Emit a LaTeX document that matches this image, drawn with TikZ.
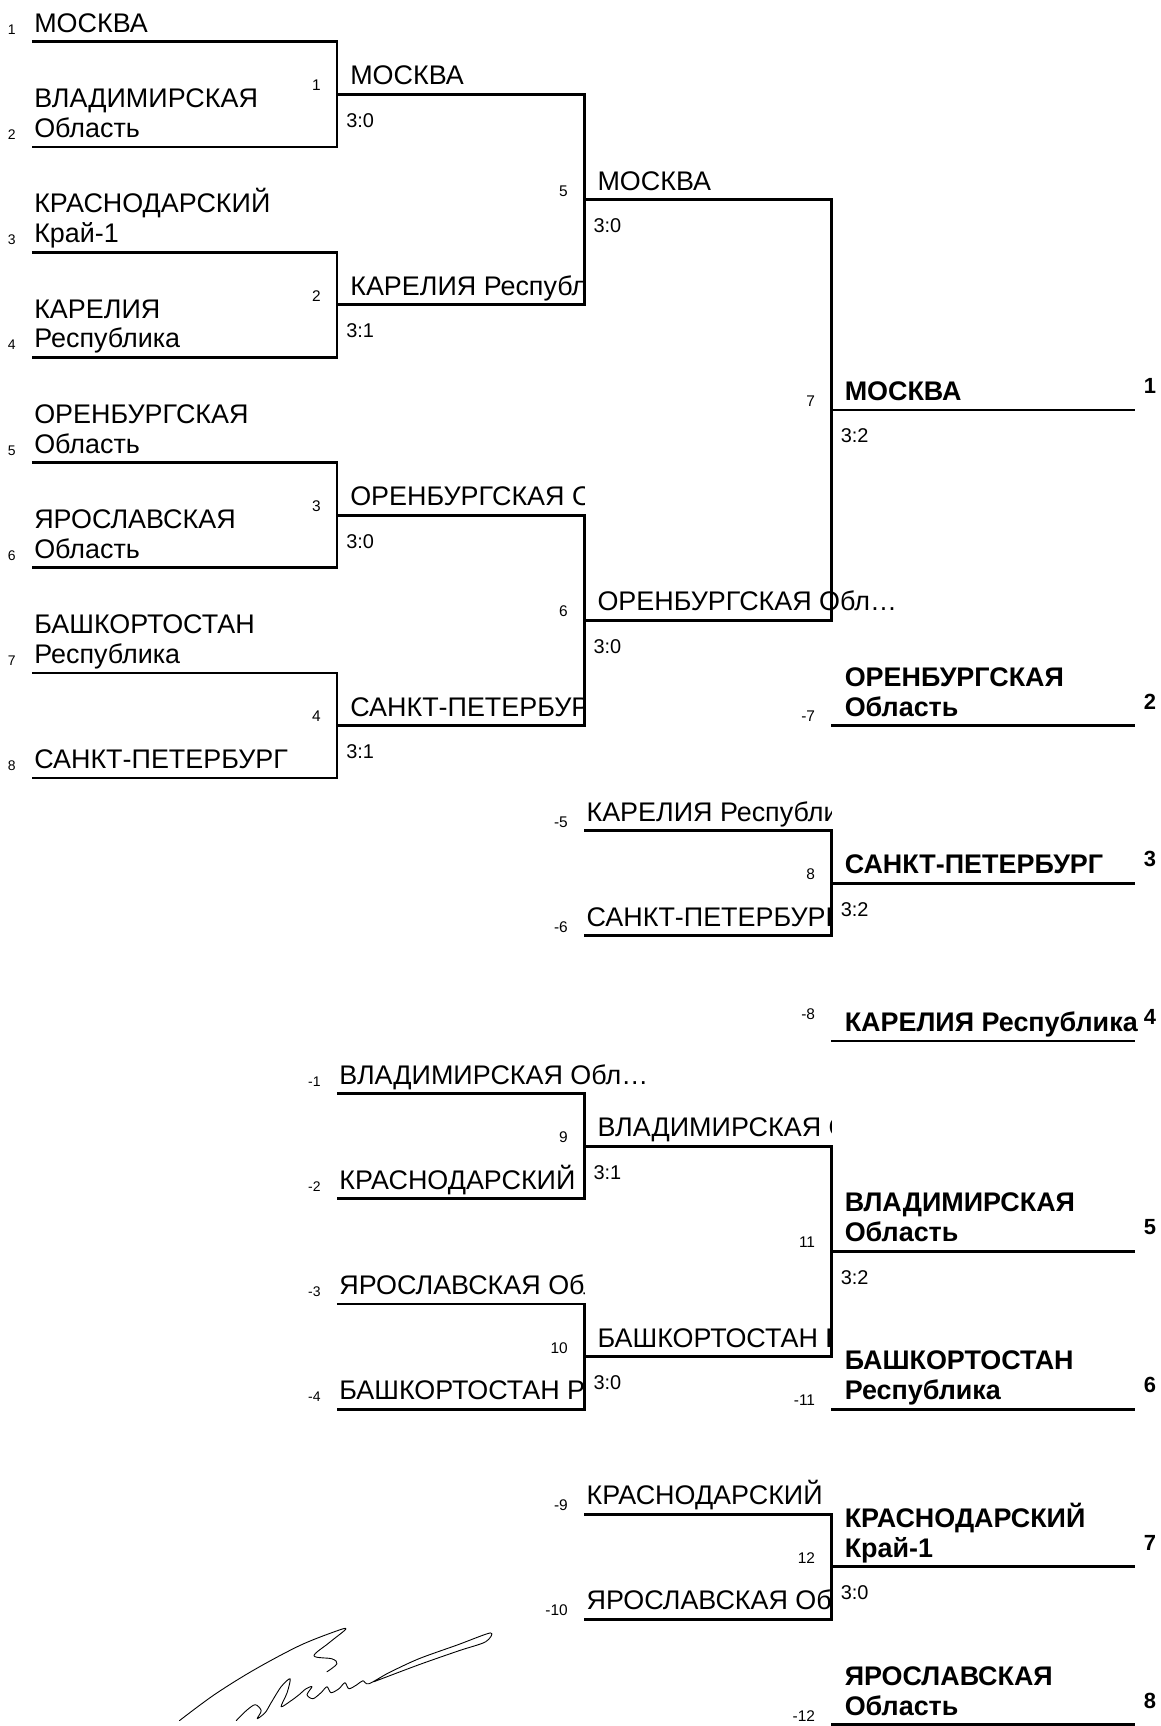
\documentclass[tikz,border=0pt]{standalone}
\usepackage{fontspec}
\setmainfont{Liberation Sans}
\usepackage{tikz}

\begin{document}
\begin{tikzpicture}[x=1pt,y=-52.75pt,line width=2.8pt,
  team/.style={anchor=base west,inner sep=0pt,align=left,font=\fontsize{27}{30}\selectfont,yshift=9.5pt},
  best/.style={team,font=\fontsize{27}{30}\selectfont\bfseries},
  seed/.style={anchor=base east,inner sep=0pt,font=\fontsize{14}{14}\selectfont,yshift=7.5pt},
  game/.style={anchor=base east,inner sep=0pt,font=\fontsize{15.5}{15.5}\selectfont,yshift=3.5pt},
  score/.style={anchor=base west,inner sep=0pt,font=\fontsize{20}{20}\selectfont,yshift=-33pt},
  rank/.style={anchor=base west,inner sep=0pt,font=\fontsize{22}{22}\selectfont\bfseries,yshift=16.5pt},
  sign/.style={line width=0.9pt,line cap=round,line join=round}]
  \fill[white] (0,-0.7962) rectangle (1164,31.9242);

  % upper bracket
  \draw (32,0) -- (338,0) -- (338,2) -- (32,2);
  \draw (32,4) -- (338,4) -- (338,6) -- (32,6);
  \draw (32,8) -- (338,8) -- (338,10) -- (32,10);
  \draw (32,12) -- (338,12) -- (338,14) -- (32,14);
  \draw (338,1) -- (586,1) -- (586,5) -- (338,5);
  \draw (338,9) -- (586,9) -- (586,13) -- (338,13);
  \draw (586,3) -- (834,3) -- (834,11) -- (586,11);
  \draw (834,7) -- (1139,7);
  \draw (834,13) -- (1139,13);
  % third place
  \draw (586,15) -- (834,15) -- (834,17) -- (586,17);
  \draw (834,16) -- (1139,16);
  \draw (834,19) -- (1139,19);
  % places 5 to 8
  \draw (338,20) -- (586,20) -- (586,22) -- (338,22);
  \draw (338,24) -- (586,24) -- (586,26) -- (338,26);
  \draw (586,21) -- (834,21) -- (834,25) -- (586,25);
  \draw (834,23) -- (1139,23);
  \draw (834,26) -- (1139,26);
  \draw (586,28) -- (834,28) -- (834,30) -- (586,30);
  \draw (834,29) -- (1139,29);
  \draw (834,32) -- (1139,32);

  \node[seed] (sd1) at (17,0) {1};
  \node[seed] (sd2) at (17,2) {2};
  \node[seed] (sd3) at (17,4) {3};
  \node[seed] (sd4) at (17,6) {4};
  \node[seed] (sd5) at (17,8) {5};
  \node[seed] (sd6) at (17,10) {6};
  \node[seed] (sd7) at (17,12) {7};
  \node[seed] (sd8) at (17,14) {8};
  \node[team] (t1) at (33,0) {МОСКВА};
  \node[team] (t2) at (33,2) {ВЛАДИМИРСКАЯ\\Область};
  \node[team] (t3) at (33,4) {КРАСНОДАРСКИЙ\\Край-1};
  \node[team] (t4) at (33,6) {КАРЕЛИЯ\\Республика};
  \node[team] (t5) at (33,8) {ОРЕНБУРГСКАЯ\\Область};
  \node[team] (t6) at (33,10) {ЯРОСЛАВСКАЯ\\Область};
  \node[team] (t7) at (33,12) {БАШКОРТОСТАН\\Республика};
  \node[team] (t8) at (33,14) {САНКТ-ПЕТЕРБУРГ};

  \node[game] (g1) at (323,1) {1};
  \node[game] (g2) at (323,5) {2};
  \node[game] (g3) at (323,9) {3};
  \node[game] (g4) at (323,13) {4};
  \node[score] (sc1) at (346,1) {3:0};
  \node[score] (sc2) at (346,5) {3:1};
  \node[score] (sc3) at (346,9) {3:0};
  \node[score] (sc4) at (346,13) {3:1};
  \node[team] (w1) at (350,1) {МОСКВА};
  \begin{scope}
    \clip (338,4) rectangle (586,5);
    \node[team] (w2) at (350,5) {КАРЕЛИЯ Республика};
  \end{scope}
  \begin{scope}
    \clip (338,8) rectangle (586,9);
    \node[team] (w3) at (350,9) {ОРЕНБУРГСКАЯ Область};
  \end{scope}
  \begin{scope}
    \clip (338,12) rectangle (586,13);
    \node[team] (w4) at (350,13) {САНКТ-ПЕТЕРБУРГ};
  \end{scope}

  \node[game] (g5) at (571,3) {5};
  \node[game] (g6) at (571,11) {6};
  \node[score] (sc5) at (594,3) {3:0};
  \node[score] (sc6) at (594,11) {3:0};
  \node[team] (w5) at (598,3) {МОСКВА};
  \node[team] (w6) at (598,11) {ОРЕНБУРГСКАЯ Обл…};

  \node[game] (g7) at (819,7) {7};
  \node[score] (sc7) at (842,7) {3:2};
  \node[best] (p1) at (846,7) {МОСКВА};
  \node[rank] (r1) at (1146,7) {1};
  \node[game] (l7) at (819,13) {-7};
  \node[best] (p2) at (846,13) {ОРЕНБУРГСКАЯ\\Область};
  \node[rank] (r2) at (1146,13) {2};

  \node[game] (l5) at (571,15) {-5};
  \node[game] (l6) at (571,17) {-6};
  \begin{scope}
    \clip (586,14) rectangle (834,15);
    \node[team] (u5) at (587,15) {КАРЕЛИЯ Республика};
  \end{scope}
  \begin{scope}
    \clip (586,16) rectangle (834,17);
    \node[team] (u6) at (587,17) {САНКТ-ПЕТЕРБУРГ};
  \end{scope}
  \node[game] (g8) at (819,16) {8};
  \node[score] (sc8) at (842,16) {3:2};
  \node[best] (p3) at (846,16) {САНКТ-ПЕТЕРБУРГ};
  \node[rank] (r3) at (1146,16) {3};
  \node[game,yshift=18.5pt] (l8) at (819,19) {-8};
  \node[best] (p4) at (846,19) {КАРЕЛИЯ Республика};
  \node[rank] (r4) at (1146,19) {4};

  \node[seed] (l1) at (323,20) {-1};
  \node[seed] (l2) at (323,22) {-2};
  \node[seed] (l3) at (323,24) {-3};
  \node[seed] (l4) at (323,26) {-4};
  \node[team] (u1) at (339,20) {ВЛАДИМИРСКАЯ Обл…};
  \begin{scope}
    \clip (338,21) rectangle (578,22);
    \node[team] (u2) at (339,22) {КРАСНОДАРСКИЙ Край-1};
  \end{scope}
  \begin{scope}
    \clip (338,23) rectangle (586,24);
    \node[team] (u3) at (339,24) {ЯРОСЛАВСКАЯ Область};
  \end{scope}
  \begin{scope}
    \clip (338,25) rectangle (586,26);
    \node[team] (u4) at (339,26) {БАШКОРТОСТАН Республика};
  \end{scope}
  \node[game] (g9) at (571,21) {9};
  \node[game] (g10) at (571,25) {10};
  \node[score] (sc9) at (594,21) {3:1};
  \node[score] (sc10) at (594,25) {3:0};
  \begin{scope}
    \clip (586,20) rectangle (834,21);
    \node[team] (w9) at (598,21) {ВЛАДИМИРСКАЯ Область};
  \end{scope}
  \begin{scope}
    \clip (586,24) rectangle (834,25);
    \node[team] (w10) at (598,25) {БАШКОРТОСТАН Республика};
  \end{scope}
  \node[game] (g11) at (819,23) {11};
  \node[score] (sc11) at (842,23) {3:2};
  \node[best] (p5) at (846,23) {ВЛАДИМИРСКАЯ\\Область};
  \node[rank] (r5) at (1146,23) {5};
  \node[game] (l11) at (819,26) {-11};
  \node[best] (p6) at (846,26) {БАШКОРТОСТАН\\Республика};
  \node[rank] (r6) at (1146,26) {6};

  \node[game] (l9) at (571,28) {-9};
  \node[game] (l10) at (571,30) {-10};
  \begin{scope}
    \clip (586,27) rectangle (834,28);
    \node[team] (u9) at (587,28) {КРАСНОДАРСКИЙ Край-1};
  \end{scope}
  \begin{scope}
    \clip (586,29) rectangle (834,30);
    \node[team] (u10) at (587,30) {ЯРОСЛАВСКАЯ Область};
  \end{scope}
  \node[game] (g12) at (819,29) {12};
  \node[score] (sc12) at (842,29) {3:0};
  \node[best] (p7) at (846,29) {КРАСНОДАРСКИЙ\\Край-1};
  \node[rank] (r7) at (1146,29) {7};
  \node[game] (l12) at (819,32) {-12};
  \node[best] (p8) at (846,32) {ЯРОСЛАВСКАЯ\\Область};
  \node[rank] (r8) at (1146,32) {8};

  % signature
  \begin{scope}[y=-1pt,yshift=42pt]
    \draw[sign] plot[smooth,tension=0.55] coordinates {(180,1726) (215,1700) (255,1675)
      (300,1651) (335,1637) (347,1634) (330,1648) (315,1661) (333,1664) (338,1669) (328,1677)};
    \draw[sign] plot[smooth,tension=0.5] coordinates {(237,1726) (247,1716) (256,1710)
      (262,1716) (258,1724) (266,1718) (272,1708) (282,1692) (291,1684) (288,1698)
      (282,1712) (292,1706) (300,1700) (307,1694) (313,1692) (308,1700) (314,1704)
      (322,1698) (328,1692) (332,1698) (340,1694) (346,1688) (350,1694) (358,1690)
      (364,1686) (370,1689) (390,1678) (420,1664) (459,1650) (492,1638) (487,1647)
      (460,1656) (420,1670) (375,1687)};
  \end{scope}
\end{tikzpicture}
\end{document}
